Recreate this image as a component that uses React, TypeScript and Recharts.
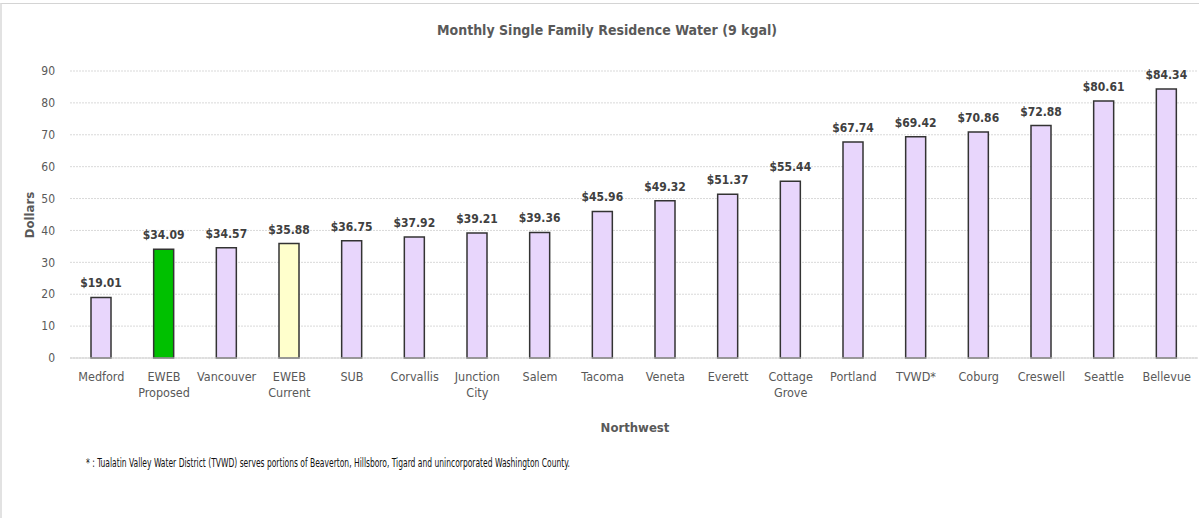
import React from 'react';
import { BarChart, Bar, XAxis, YAxis, CartesianGrid, Cell, LabelList } from 'recharts';

const categories = ['Medford', 'EWEB Proposed', 'Vancouver', 'EWEB Current', 'SUB', 'Corvallis', 'Junction City', 'Salem', 'Tacoma', 'Veneta', 'Everett', 'Cottage Grove', 'Portland', 'TVWD*', 'Coburg', 'Creswell', 'Seattle', 'Bellevue'];
const values = [19.01, 34.09, 34.57, 35.88, 36.75, 37.92, 39.21, 39.36, 45.96, 49.32, 51.37, 55.44, 67.74, 69.42, 70.86, 72.88, 80.61, 84.34];
const yTicks = [0, 10, 20, 30, 40, 50, 60, 70, 80, 90];
const highlight: Record<string, string> = { 'EWEB Proposed': '#00c000', 'EWEB Current': '#ffffcc' };
const defaultFill = '#e8d6fc';

const data = categories.map((c, i) => ({ name: c, value: values[i] }));

const FONT = '"Liberation Sans Narrow", "Arial Narrow", "DejaVu Sans Condensed", sans-serif';

const CatTick = (props: any) => {
  const { x, y, payload } = props;
  const parts = String(payload.value).split(' ');
  return (
    <g transform={`translate(${x},${y})`}>
      <text textAnchor="middle" fill="#595959" fontSize={12.5} fontFamily={FONT}>
        {parts.map((p: string, i: number) => (
          <tspan key={i} x={0} dy={i === 0 ? 14.5 : 16}>{p}</tspan>
        ))}
      </text>
    </g>
  );
};

export default function App() {
  return (
    <div style={{ position: 'absolute', left: 0, top: 0, width: 1199, height: 518, background: '#fff', fontFamily: FONT }}>
      <div style={{ position: 'absolute', left: 0, top: 3, width: 1199, height: 515, borderTop: '1px solid #d4d4d4', borderLeft: '2px solid #e2e2e2', boxSizing: 'border-box' }} />
      <div style={{ position: 'absolute', left: 0, top: 0 }}>
        <BarChart width={1199} height={518} data={data} margin={{ top: 71, right: 1, bottom: 120, left: 30 }}>
          <CartesianGrid vertical={false} stroke="#d9d9d9" strokeDasharray="2 1" />
          <XAxis dataKey="name" interval={0} height={40} tickLine={false} axisLine={{ stroke: '#d0d0d0' }} tick={<CatTick />} />
          <YAxis domain={[0, 90]} ticks={yTicks} width={40} axisLine={false} tickLine={false} tickSize={0} tickMargin={15}
            tick={{ fill: '#595959', fontSize: 12, fontFamily: FONT }} />
          <Bar dataKey="value" barSize={20} stroke="#333333" strokeWidth={1.5} isAnimationActive={false}>
            {data.map((d) => (
              <Cell key={d.name} fill={highlight[d.name] || defaultFill} />
            ))}
            <LabelList dataKey="value" position="top" offset={10}
              formatter={(v: any) => `$${Number(v).toFixed(2)}`}
              style={{ fill: '#404040', fontSize: 12, fontWeight: 'bold', fontFamily: FONT }} />
          </Bar>
        </BarChart>
      </div>
      <svg style={{ position: 'absolute', left: 0, top: 0 }} width={1199} height={518}>
        <text x={607} y={35} textAnchor="middle" fontWeight="bold" fontSize={14} fill="#595959" fontFamily={FONT}
          textLength={340} lengthAdjust="spacingAndGlyphs">
          Monthly Single Family Residence  Water (9 kgal)
        </text>
        <text transform="translate(34,215) rotate(-90)" textAnchor="middle" fontWeight="bold" fontSize={13} fill="#595959" fontFamily={FONT}>
          Dollars
        </text>
        <text x={635} y={432} textAnchor="middle" fontWeight="bold" fontSize={13} fill="#595959" fontFamily={FONT}>
          Northwest
        </text>
        <text x={86} y={467} fontSize={13} fill="#111" fontFamily={FONT} textLength={484} lengthAdjust="spacingAndGlyphs">
          * : Tualatin Valley Water District (TVWD) serves portions of Beaverton, Hillsboro, Tigard and unincorporated Washington County.
        </text>
      </svg>
    </div>
  );
}
